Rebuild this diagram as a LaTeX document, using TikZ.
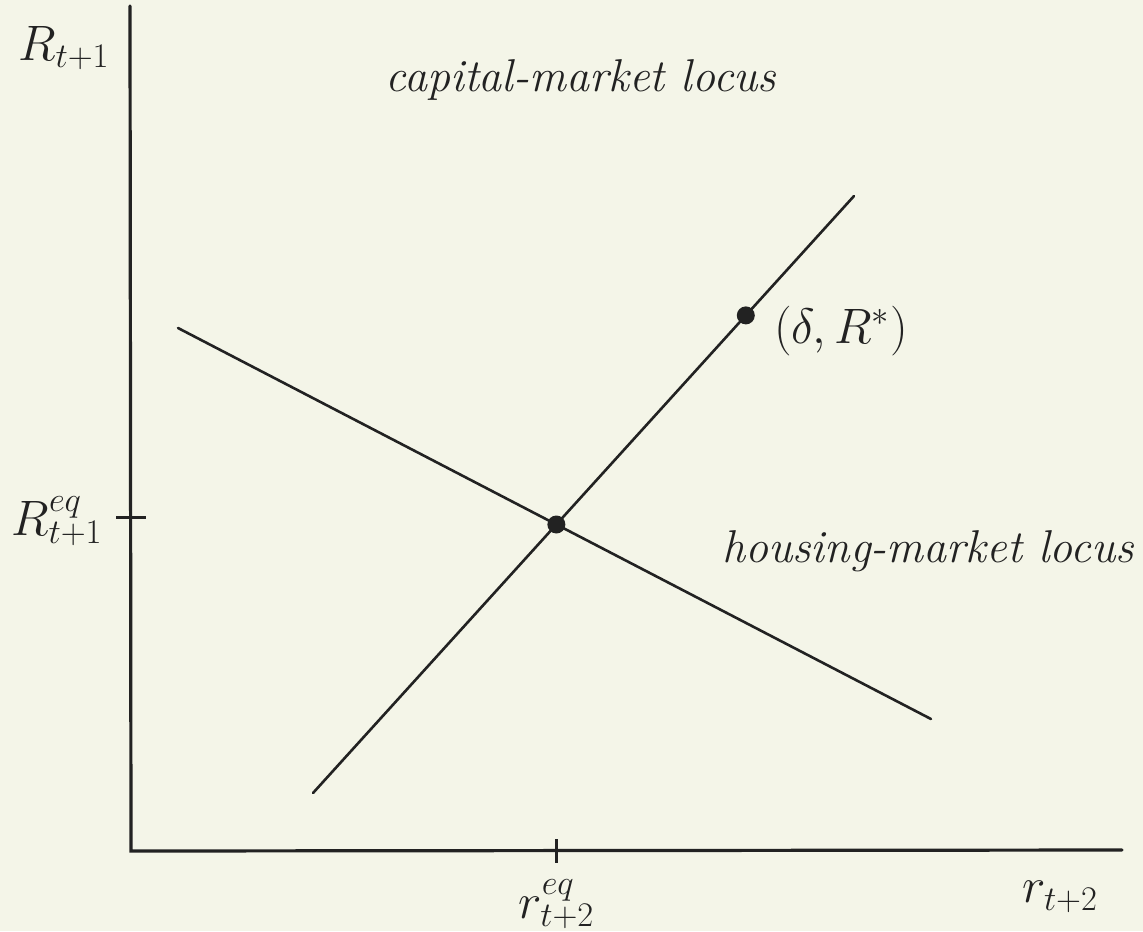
\documentclass[tikz,border=0pt]{standalone}
\usepackage{xcolor}
\usetikzlibrary{calc}
\definecolor{paper}{HTML}{F4F5E8}
\definecolor{ink}{HTML}{222222}
\begin{document}
\begin{tikzpicture}[x=0.5pt,y=-0.5pt,
  axis/.style={line width=1.6pt,draw=ink,line cap=round},
  locus/.style={line width=1.3pt,draw=ink,line cap=round},
  tick/.style={line width=1.3pt,draw=ink},
  lbl/.style={text=ink,inner sep=0pt,font=\fontsize{23}{28}\selectfont},
  pt/.style={circle,fill=ink,inner sep=0pt,minimum size=9pt}]
\fill[paper] (0,0) rectangle (1143,931);
\useasboundingbox (0,0) rectangle (1143,931);
% axes
\coordinate (O) at (131,851);
\coordinate (Ytop) at (130,6);
\coordinate (Xend) at (1122,850);
\draw[axis] (Ytop) -- (O) -- (Xend);
% loci
\coordinate (C1) at (313,793);
\coordinate (C2) at (854,196);
\coordinate (H1) at (178,328);
\coordinate (H2) at (931,719);
\draw[locus] (C1) -- (C2);
\draw[locus] (H1) -- (H2);
\coordinate (E) at (intersection of C1--C2 and H1--H2);
\node[pt] (eq) at (E) {};
\node[pt] (star) at ($(C1)!0.8!(C2)$) {};
% ticks
\coordinate (Ty) at ([yshift=3.5pt]O |- E);
\coordinate (Tx) at (E |- O);
\draw[tick] ([xshift=-7.5pt]Ty) -- ([xshift=7.5pt]Ty);
\draw[tick] ([yshift=6pt]Tx) -- ([yshift=-6pt]Tx);
% labels
\node[lbl] (ylab) at (64,48) {$R_{t+1}$};
\node[lbl,anchor=east] (yeq) at ([xshift=-14pt,yshift=-2pt]Ty) {$R^{eq}_{t+1}$};
\node[lbl,anchor=north] (xeq) at ([yshift=-14pt]Tx) {$r^{eq}_{t+2}$};
\node[lbl] (xlab) at (1060,897) {$r_{t+2}$};
\node[lbl] (cap) at (581,80) {\itshape capital-market locus};
\node[lbl] (hou) at (928,551) {\itshape housing-market locus};
\node[lbl,anchor=north west] (starlab) at ([xshift=14pt,yshift=5pt]star) {$(\delta,R^{*})$};
\end{tikzpicture}
\end{document}
